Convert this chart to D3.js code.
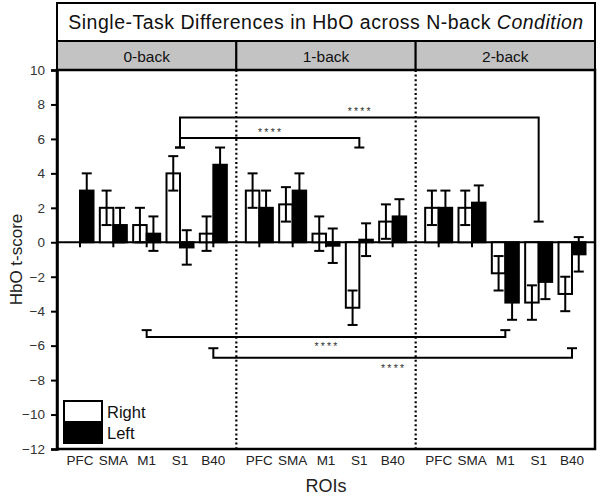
<!DOCTYPE html>
<html>
<head>
<meta charset="utf-8">
<script src="https://cdn.jsdelivr.net/npm/d3@7"></script>
<style>
  body { margin: 0; background: #fff; }
  text { font-family: "Liberation Sans", Arial, sans-serif; }
</style>
</head>
<body>
<div class="chart"></div>
<script>
// les données
const conditions = ["0-back", "1-back", "2-back"];
const rois = ["PFC", "SMA", "M1", "S1", "B40"];
const yTicks = [-12, -10, -8, -6, -4, -2, 0, 2, 4, 6, 8, 10];

// Right (blanc) et Left (noir), une ligne par condition
const rightVals = [[0, 2, 1, 4, 0.5], [3, 2.2, 0.5, -3.8, 1.2], [2, 2, -1.8, -3.5, -3]];
const rightErr = [[0, 1, 1, 1, 1], [1, 1, 1, 1, 1], [1, 1, 1, 1, 1]];
const leftVals = [[3, 1, 0.5, -0.3, 4.5], [2, 3, -0.2, 0.15, 1.5], [2, 2.3, -3.5, -2.3, -0.7]];
const leftErr = [[1, 1, 1, 1, 1], [1, 1, 1, 0.95, 1], [1, 1, 1, 1, 1]];

// crochets de significativité
const brackets = [
    { from: ["0-back", "S1"], to: ["1-back", "S1"], y: 6.05, endFrom: 5.5, endTo: 5.5, label: "****", labelY: 6.4 },
    { from: ["0-back", "S1"], to: ["2-back", "S1"], y: 7.25, endFrom: 5.5, endTo: 1.2, label: "****", labelY: 7.6 },
    { from: ["0-back", "M1"], to: ["2-back", "M1"], y: -5.5, endFrom: -5.1, endTo: -5.1, label: "****", labelY: -6.05 },
    { from: ["0-back", "B40"], to: ["2-back", "B40"], y: -6.7, endFrom: -6.15, endTo: -6.15, label: "****", labelY: -7.3 }
];

const W = 600, H = 496;
const mLeft = 57, mRight = 595, mTop = 70, mBottom = 449;

const svg = d3.select(".chart").append("svg")
    .attr("width", W).attr("height", H);

const y = d3.scaleLinear().domain([-12, 10]).range([mBottom, mTop]);
const xPanel = d3.scaleBand().domain(conditions).range([mLeft, mRight]);
const xRoi = d3.scaleBand().domain(rois).range([0, xPanel.bandwidth()]).paddingOuter(0.19);
const barW = 13.5;
const cx = (c, r) => xPanel(c) + xRoi(r) + xRoi.bandwidth() / 2;

// Titre
svg.append("rect").attr("x", mLeft).attr("y", 3).attr("width", mRight - mLeft).attr("height", 38)
    .attr("fill", "#fff").attr("stroke", "#000").attr("stroke-width", 2);
const title = svg.append("text").attr("x", (mLeft + mRight) / 2).attr("y", 29)
    .attr("text-anchor", "middle").attr("font-size", 19.5).attr("letter-spacing", 0.5).attr("fill", "#111");
title.append("tspan").text("Single-Task Differences in HbO across N-back ");
title.append("tspan").attr("font-style", "italic").text("Condition");

// bandeaux des conditions
svg.selectAll(".strip").data(conditions).enter().append("rect")
    .attr("x", d => xPanel(d)).attr("y", 41)
    .attr("width", xPanel.bandwidth()).attr("height", mTop - 41)
    .attr("fill", "#c3c3c3").attr("stroke", "#000").attr("stroke-width", 2);
svg.selectAll(".stripText").data(conditions).enter().append("text")
    .attr("x", d => xPanel(d) + xPanel.bandwidth() / 2).attr("y", 61.5)
    .attr("text-anchor", "middle").attr("font-size", 15.5).attr("fill", "#111")
    .text(d => d);

// séparateurs pointillés
svg.selectAll(".divider").data(conditions.slice(1)).enter().append("line")
    .attr("x1", d => xPanel(d)).attr("x2", d => xPanel(d))
    .attr("y1", mTop).attr("y2", mBottom)
    .attr("stroke", "#000").attr("stroke-width", 2.2).attr("stroke-dasharray", "2,2.6");

// ligne zéro + ticks
svg.append("line").attr("x1", mLeft).attr("x2", mRight).attr("y1", y(0)).attr("y2", y(0))
    .attr("stroke", "#000").attr("stroke-width", 2);
conditions.forEach(c => {
    const g = svg.append("g").attr("transform", `translate(${xPanel(c)},${y(0)})`)
        .call(d3.axisBottom(xRoi).tickSize(5).tickFormat(""));
    g.select(".domain").remove();
    g.selectAll("line").attr("stroke-width", 2);

    const gl = svg.append("g").attr("transform", `translate(${xPanel(c)},${mBottom})`)
        .call(d3.axisBottom(xRoi).tickSize(0).tickPadding(6));
    gl.select(".domain").remove();
    gl.selectAll("text").attr("font-size", 13.5).attr("fill", "#222")
        .attr("font-family", "'Liberation Sans', Arial, sans-serif");
});

// barres + barres d'erreur
const bars = [];
conditions.forEach((c, ci) => {
    rois.forEach((r, ri) => {
        bars.push({ c, r, side: "Right", v: rightVals[ci][ri], e: rightErr[ci][ri] });
        bars.push({ c, r, side: "Left", v: leftVals[ci][ri], e: leftErr[ci][ri] });
    });
});
const bx = d => d.side === "Right" ? cx(d.c, d.r) - barW : cx(d.c, d.r);

svg.selectAll(".bar").data(bars.filter(d => d.v !== 0)).enter().append("rect")
    .attr("x", bx).attr("width", barW)
    .attr("y", d => y(Math.max(0, d.v)))
    .attr("height", d => Math.abs(y(d.v) - y(0)))
    .attr("fill", d => d.side === "Right" ? "#fff" : "#000")
    .attr("stroke", "#000").attr("stroke-width", 2);

const eb = svg.selectAll(".err").data(bars.filter(d => d.e > 0)).enter().append("g");
eb.append("line")
    .attr("x1", d => bx(d) + barW / 2).attr("x2", d => bx(d) + barW / 2)
    .attr("y1", d => y(d.v + d.e)).attr("y2", d => y(d.v - d.e))
    .attr("stroke", "#000").attr("stroke-width", 2);
[1, -1].forEach(s => {
    eb.append("line")
        .attr("x1", d => bx(d) + barW / 2 - 5).attr("x2", d => bx(d) + barW / 2 + 5)
        .attr("y1", d => y(d.v + s * d.e)).attr("y2", d => y(d.v + s * d.e))
        .attr("stroke", "#000").attr("stroke-width", 2);
});

// crochets
brackets.forEach(b => {
    const x1 = cx(b.from[0], b.from[1]), x2 = cx(b.to[0], b.to[1]);
    svg.append("path")
        .attr("d", `M${x1},${y(b.endFrom)}V${y(b.y)}H${x2}V${y(b.endTo)}`)
        .attr("fill", "none").attr("stroke", "#000").attr("stroke-width", 2);
    [[x1, b.endFrom], [x2, b.endTo]].forEach(([xx, yy]) => {
        svg.append("line").attr("x1", xx - 5).attr("x2", xx + 5)
            .attr("y1", y(yy)).attr("y2", y(yy))
            .attr("stroke", "#000").attr("stroke-width", 2);
    });
    svg.append("text").attr("x", (x1 + x2) / 2 + 1).attr("y", y(b.labelY) + 4)
        .attr("text-anchor", "middle").attr("font-size", 10.5).attr("letter-spacing", 2.2)
        .attr("fill", "#333").text(b.label);
});

// cadre
svg.append("rect").attr("x", mLeft).attr("y", mTop).attr("width", mRight - mLeft).attr("height", mBottom - mTop)
    .attr("fill", "none").attr("stroke", "#000").attr("stroke-width", 2.5);

// axe Y
const gy = svg.append("g").attr("transform", `translate(${mLeft},0)`)
    .call(d3.axisLeft(y).tickValues(yTicks).tickSize(6).tickPadding(6));
gy.select(".domain").attr("stroke-width", 2.5);
gy.selectAll("line").attr("stroke-width", 2);
gy.selectAll("text").attr("font-size", 13.5).attr("fill", "#333")
    .attr("font-family", "'Liberation Sans', Arial, sans-serif");

svg.append("text").attr("transform", `translate(22,${(mTop + mBottom) / 2}) rotate(-90)`)
    .attr("text-anchor", "middle").attr("font-size", 17).attr("fill", "#222").text("HbO t-score");
svg.append("text").attr("x", (mLeft + mRight) / 2).attr("y", 492)
    .attr("text-anchor", "middle").attr("font-size", 18).attr("fill", "#222").text("ROIs");

// légende
const legend = [{ name: "Right", fill: "#fff" }, { name: "Left", fill: "#000" }];
svg.selectAll(".leg").data(legend).enter().append("rect")
    .attr("x", 64).attr("y", (d, i) => 401 + i * 21).attr("width", 38).attr("height", 21)
    .attr("fill", d => d.fill).attr("stroke", "#000").attr("stroke-width", 2);
svg.selectAll(".legText").data(legend).enter().append("text")
    .attr("x", 107).attr("y", (d, i) => 418 + i * 21)
    .attr("font-size", 16.5).attr("fill", "#111").text(d => d.name);
</script>
</body>
</html>
